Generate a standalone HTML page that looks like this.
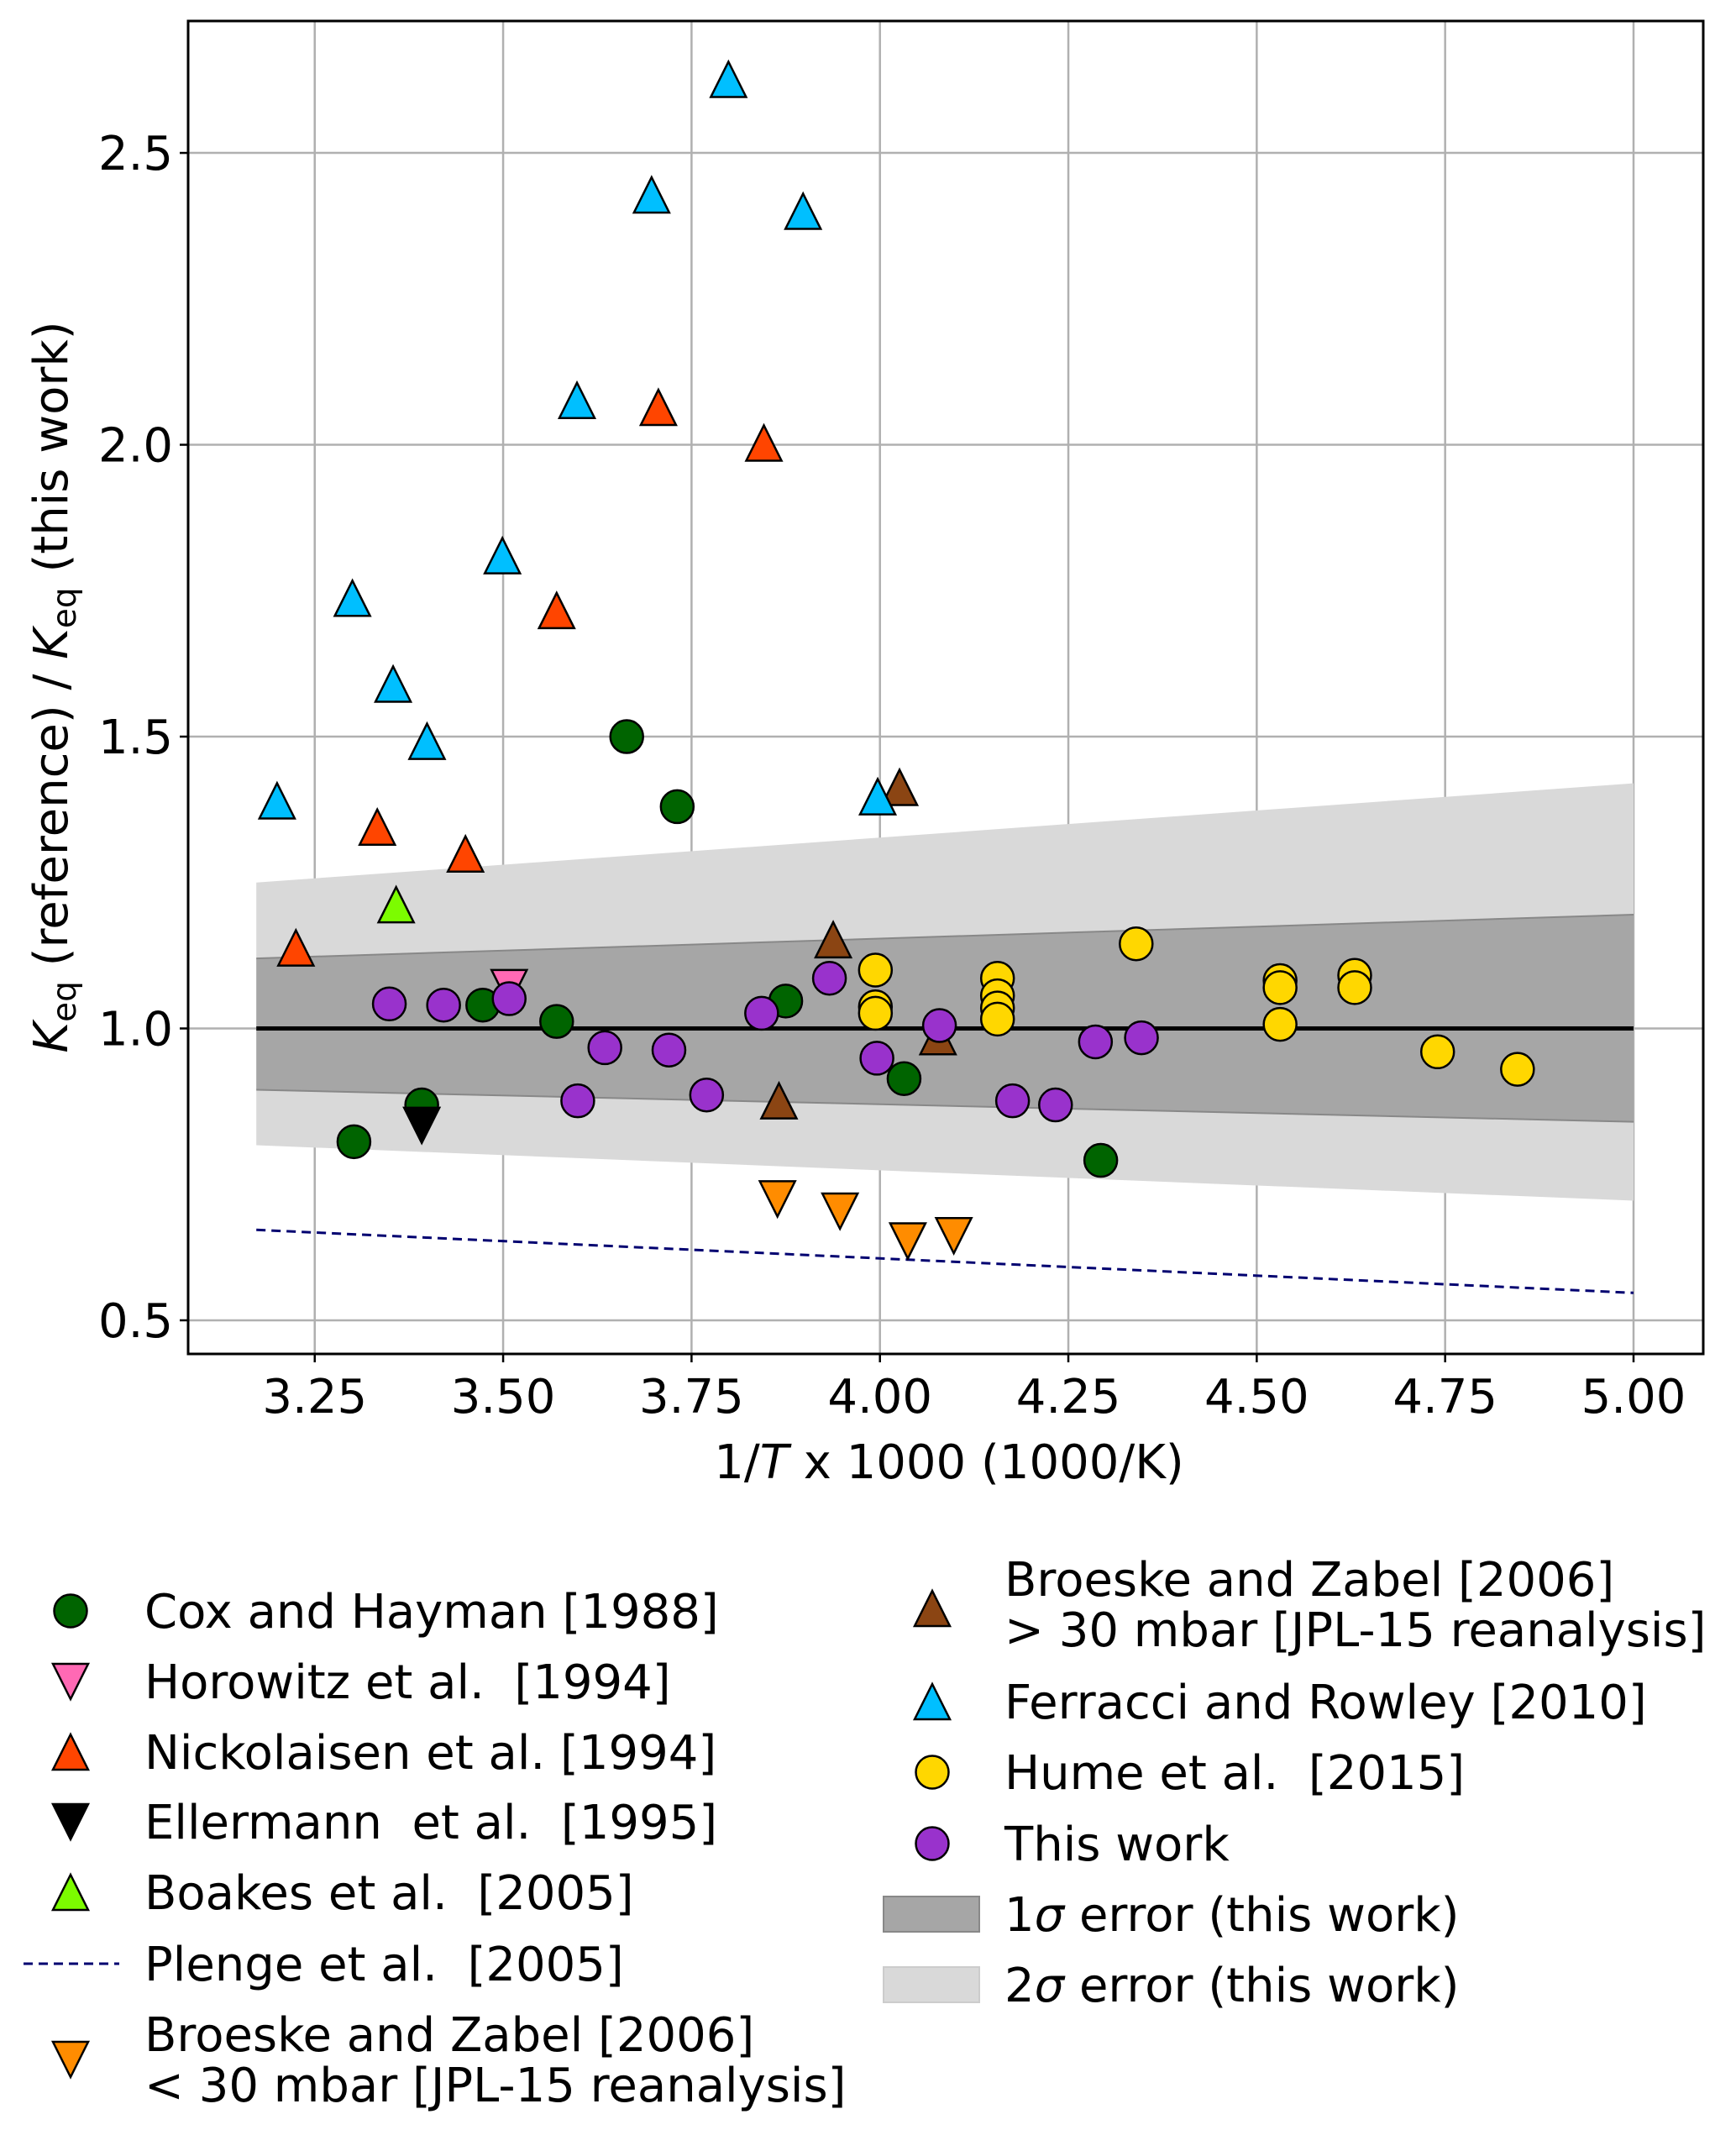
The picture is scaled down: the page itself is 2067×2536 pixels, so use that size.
<!DOCTYPE html>
<html><head><meta charset="utf-8"><style>
html,body{margin:0;padding:0;background:#fff;}
svg{display:block;font-family:"DejaVu Sans","Liberation Sans",sans-serif;}
text{white-space:pre;}
</style></head><body>
<svg id="chart" width="2067" height="2536" viewBox="0 0 2067 2536"></svg>
<script>
const xTicks=[3.25,3.5,3.75,4.0,4.25,4.5,4.75,5.0];
const xTickLabels=["3.25","3.50","3.75","4.00","4.25","4.50","4.75","5.00"];
const yTicks=[0.5,1.0,1.5,2.0,2.5];
const yTickLabels=["0.5","1.0","1.5","2.0","2.5"];
const coxX=[3.302,3.392,3.473,3.571,3.664,3.731,3.875,4.032,4.293];
const coxY=[0.806,0.869,1.04,1.012,1.50,1.38,1.047,0.914,0.774];
const horoX=[3.508];
const horoY=[1.07];
const nickX=[3.225,3.333,3.450,3.571,3.706,3.846];
const nickY=[1.138,1.345,1.299,1.716,2.064,2.003];
const ellX=[3.392];
const ellY=[0.834];
const boakesX=[3.358];
const boakesY=[1.212];
const brHiX=[4.026,3.938,4.077,3.866];
const brHiY=[1.413,1.152,0.986,0.876];
const ferX=[3.20,3.300,3.354,3.399,3.499,3.598,3.697,3.799,3.898,3.997];
const ferY=[1.39,1.737,1.59,1.492,1.81,2.076,2.428,2.626,2.40,1.397];
const brLoX=[3.864,3.947,4.037,4.098];
const brLoY=[0.708,0.687,0.636,0.645];
const humeX=[3.994,3.994,3.994,4.156,4.156,4.156,4.156,4.34,4.531,4.531,4.531,4.63,4.63,4.74,4.846];
const humeY=[1.10,1.037,1.026,1.086,1.056,1.035,1.016,1.145,1.082,1.07,1.007,1.091,1.07,0.96,0.93];
const thisX=[3.349,3.421,3.508,3.599,3.635,3.72,3.77,3.843,3.933,3.996,4.079,4.176,4.233,4.286,4.347];
const thisY=[1.042,1.04,1.051,0.876,0.967,0.963,0.886,1.026,1.086,0.949,1.005,0.876,0.869,0.977,0.984];
const bandX=[3.1725,5.0];
const s1Lo=[0.895,0.84], s1Hi=[1.12,1.195];
const s2Lo=[0.80,0.705], s2Hi=[1.25,1.42];
const plengeX=[3.1725,5.0];
const plengeY=[0.655,0.547];

const L=224,R=2028,T=25,B=1612;
const X0=3.082,X1=5.0925,Y0=0.4424,Y1=2.726;
const FS=56;
const sx=v=>L+(v-X0)/(X1-X0)*(R-L);
const sy=v=>B-(v-Y0)/(Y1-Y0)*(B-T);
const svg=document.getElementById('chart');
const NS='http://www.w3.org/2000/svg';
function mk(tag,attrs,parent){const e=document.createElementNS(NS,tag);for(const k in attrs)e.setAttribute(k,attrs[k]);(parent||svg).appendChild(e);return e;}

xTicks.forEach((t,i)=>{
 const g=mk('line',{x1:sx(t),x2:sx(t),y1:T,y2:B,stroke:'#b0b0b0','stroke-width':2.5});
 
 
 mk('line',{x1:sx(t),x2:sx(t),y1:B,y2:B+10,stroke:'#000','stroke-width':2.5});
 const tx=mk('text',{x:sx(t),y:B+70,'font-size':FS,'text-anchor':'middle'});
 tx.textContent=xTickLabels[i];
 
 
});
yTicks.forEach((t,i)=>{
 const g=mk('line',{x1:L,x2:R,y1:sy(t),y2:sy(t),stroke:'#b0b0b0','stroke-width':2.5});
 
 
 mk('line',{x1:L-10,x2:L,y1:sy(t),y2:sy(t),stroke:'#000','stroke-width':2.5});
 const tx=mk('text',{x:L-18,y:sy(t)+20,'font-size':FS,'text-anchor':'end'});
 tx.textContent=yTickLabels[i];
 
 
});

function band(lo,hi,fill,name){
 const p=mk('polygon',{points:`${sx(bandX[0])},${sy(lo[0])} ${sx(bandX[1])},${sy(lo[1])} ${sx(bandX[1])},${sy(hi[1])} ${sx(bandX[0])},${sy(hi[0])}`,fill:fill});
 
 
}
band(s2Lo,s2Hi,'#d9d9d9','band-2sigma');
band(s1Lo,s1Hi,'#a6a6a6','band-1sigma');
mk('polyline',{points:`${sx(bandX[0])},${sy(s1Lo[0])} ${sx(bandX[1])},${sy(s1Lo[1])}`,stroke:'#888',fill:'none','stroke-width':2});
mk('polyline',{points:`${sx(bandX[0])},${sy(s1Hi[0])} ${sx(bandX[1])},${sy(s1Hi[1])}`,stroke:'#888',fill:'none','stroke-width':2});
const ref=mk('line',{x1:sx(bandX[0]),x2:sx(bandX[1]),y1:sy(1),y2:sy(1),stroke:'#000','stroke-width':5});


const pl=mk('polyline',{points:plengeX.map((x,i)=>sx(x)+','+sy(plengeY[i])).join(' '),stroke:'#000070',fill:'none','stroke-width':3,'stroke-dasharray':'11,7'});



const R0=19.5;
function marker(shape,cx,cy,fill,g){
 if(shape==='o') return mk('circle',{cx:cx,cy:cy,r:R0,fill:fill,stroke:'#000','stroke-width':2.5},g);
 const h=21,w=21;
 const pts=shape==='^'?`${cx},${cy-h} ${cx-w},${cy+h} ${cx+w},${cy+h}`:`${cx},${cy+h} ${cx-w},${cy-h} ${cx+w},${cy-h}`;
 return mk('polygon',{points:pts,fill:fill,stroke:'#000','stroke-width':2.5},g);
}
function series(xs,ys,shape,fill,name){
 const g=mk('g',{});
 
 
 xs.forEach((x,i)=>{
  const m=marker(shape,sx(x),sy(ys[i]),fill,g);
  
  
 });
}
series(coxX,coxY,'o','#006400','cox-hayman-series');
series(horoX,horoY,'v','#ff69b4','horowitz-series');
series(nickX,nickY,'^','#ff4500','nickolaisen-series');
series(ellX,ellY,'v','#000000','ellermann-series');
series(boakesX,boakesY,'^','#7cfc00','boakes-series');
series(brHiX,brHiY,'^','#8b4513','broeske-high-series');
series(ferX,ferY,'^','#00bfff','ferracci-series');
series(brLoX,brLoY,'v','#ff8c00','broeske-low-series');
series(humeX,humeY,'o','#ffd700','hume-series');
series(thisX,thisY,'o','#9932cc','this-work-series');

const fr=mk('rect',{x:L,y:T,width:R-L,height:B-T,fill:'none',stroke:'#000','stroke-width':3});



const lg=mk('g',{});


function legText(x,y,str,name){
 const t=mk('text',{x:x,y:y,'font-size':FS},lg);
 t.innerHTML=str;
 
 
}
const leftRows=[
 ['o','#006400','Cox and Hayman [1988]',1918],
 ['v','#ff69b4','Horowitz et al.  [1994]',2002],
 ['^','#ff4500','Nickolaisen et al. [1994]',2086],
 ['v','#000000','Ellermann  et al.  [1995]',2169],
 ['^','#7cfc00','Boakes et al.  [2005]',2253]
];
leftRows.forEach(r=>{marker(r[0],84,r[3],r[1],lg);legText(172,r[3]+20,r[2],'legend-entry');});
mk('line',{x1:28,x2:142,y1:2338,y2:2338,stroke:'#000070','stroke-width':3,'stroke-dasharray':'11,7'},lg);
legText(172,2358,'Plenge et al.  [2005]','legend-entry');
marker('v',84,2452,'#ff8c00',lg);
legText(172,2442,'Broeske and Zabel [2006]','legend-entry');
legText(172,2502,'&lt; 30 mbar [JPL-15 reanalysis]','legend-entry');

marker('^',1110,1915,'#8b4513',lg);
legText(1196,1900,'Broeske and Zabel [2006]','legend-entry');
legText(1196,1960,'&gt; 30 mbar [JPL-15 reanalysis]','legend-entry');
const rightRows=[
 ['^','#00bfff','Ferracci and Rowley [2010]',2026],
 ['o','#ffd700','Hume et al.  [2015]',2110],
 ['o','#9932cc','This work',2195]
];
rightRows.forEach(r=>{marker(r[0],1110,r[3],r[1],lg);legText(1196,r[3]+20,r[2],'legend-entry');});
mk('rect',{x:1052,y:2258,width:114,height:42,fill:'#a6a6a6',stroke:'#888','stroke-width':2},lg);
legText(1196,2299,'1<tspan font-style="italic">σ</tspan> error (this work)','legend-entry');
mk('rect',{x:1052,y:2342,width:114,height:42,fill:'#d9d9d9',stroke:'#ccc','stroke-width':2},lg);
legText(1196,2383,'2<tspan font-style="italic">σ</tspan> error (this work)','legend-entry');

const xl=mk('text',{x:1130,y:1760,'font-size':FS,'text-anchor':'middle'});
xl.innerHTML='1/<tspan font-style="italic">T</tspan> x 1000 (1000/K)';


const yl=mk('text',{x:0,y:0,'font-size':FS,'text-anchor':'middle',transform:'translate(80,818) rotate(-90)'});
yl.innerHTML='<tspan font-style="italic">K</tspan><tspan font-size="39" dy="10">eq</tspan><tspan dy="-10"> (reference) / </tspan><tspan font-style="italic">K</tspan><tspan font-size="39" dy="10">eq</tspan><tspan dy="-10"> (this work)</tspan>';


</script>
</body></html>
